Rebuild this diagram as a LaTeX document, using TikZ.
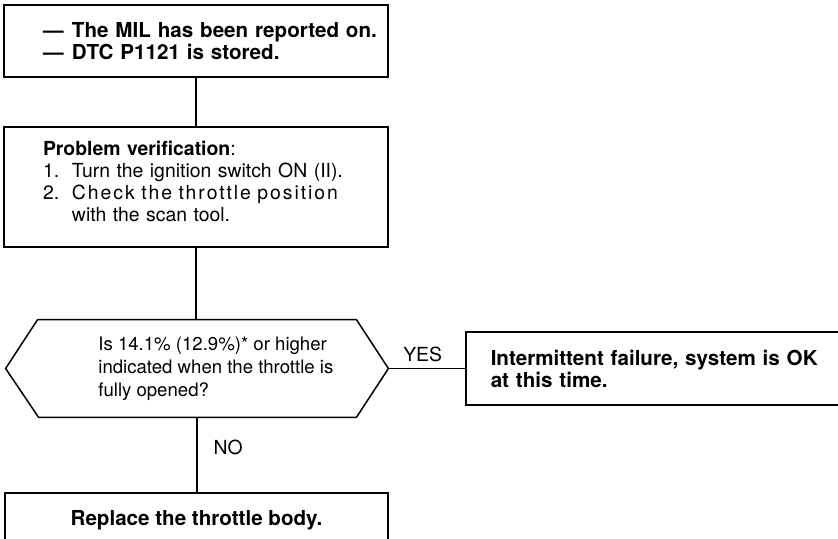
\documentclass[tikz,border=0pt]{standalone}
\usepackage{fontspec}
\setmainfont{TeX Gyre Heros}
\usetikzlibrary{positioning,calc}
\newcommand{\pad}{\hspace*{17.5pt}}
\newcommand{\lead}[1]{\makebox[14.5pt][l]{#1}}

\begin{document}
\begin{tikzpicture}[x=0.5pt,y=-0.5pt,
    stepbox/.style={draw,line width=0.75pt,align=left,inner ysep=0pt,
        font=\fontsize{9.7}{11}\selectfont},
    boldbox/.style={stepbox,font=\fontsize{10.3}{11}\selectfont\bfseries},
    link/.style={line width=0.6pt},
    tag/.style={font=\fontsize{9.7}{11}\selectfont,inner sep=0pt}]
  \clip (0,0) rectangle (838,539);
  %% Boxes of the main column
  \node[boldbox,text width=188pt,inner xsep=2pt,minimum height=36pt]
        (dtc) at (196,41)
        {\pad\lead{—}The MIL has been reported on.\\
         \pad\lead{—}DTC P1121 is stored.};
  \node[stepbox,text width=188pt,inner xsep=2pt,minimum height=60pt]
        (verify) at (196,187)
        {\pad\textbf{Problem verification}:\\
         \pad\lead{1.}Turn the ignition switch ON (II).\\
         \pad\lead{2.}{\addfontfeature{LetterSpace=10}Check the throttle position}\\
         \pad\lead{}with the scan tool.\\[-5pt]\mbox{}};
  %% Decision (hexagon drawn on the node's corners)
  \node[minimum width=191pt,minimum height=48.5pt,inner sep=0pt]
        (level) at (197,368.5) {};
  \draw[line width=0.75pt] (level.west) -- ($(level.north west)+(32,0)$)
        -- ($(level.north east)+(-32,0)$) -- (level.east)
        -- ($(level.south east)+(-32,0)$) -- ($(level.south west)+(33,0)$) -- cycle;
  \node[tag,font=\fontsize{9.3}{11.5}\selectfont,align=left,anchor=west]
        (leveltext) at (98,368.5)
        {Is 14.1\% (12.9\%)* or higher\\
         indicated when the throttle is\\
         fully opened?};
  %% Result boxes
  \node[boldbox,anchor=west,text width=180pt,inner xsep=12.5pt,minimum height=36.5pt]
        (okay) at (465,368.5)
        {Intermittent failure, system is OK\\at this time.};
  \node[boldbox,align=center,minimum width=191.5pt,minimum height=27pt]
        (replace) at (196.5,520) {Replace the throttle body.};

  %% Connectors
  \draw[link] (dtc) -- (verify);
  \draw[link] (verify.south) -- (verify.south |- level.north);
  \draw[link] (level.east) -- (okay.west)
        node[midway,above=3pt,tag,xshift=-2pt] {YES};
  \draw[link] (level.south) -- (level.south |- replace.north)
        node[pos=0.4,right=8pt,tag] {NO};
\end{tikzpicture}
\end{document}
